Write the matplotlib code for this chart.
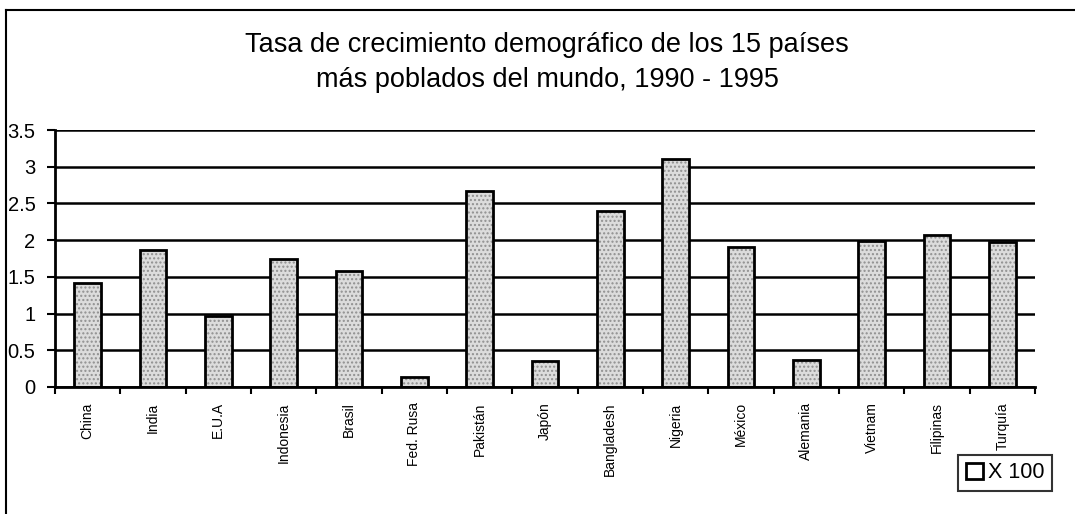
import matplotlib
matplotlib.use("Agg")
import matplotlib.pyplot as plt
from matplotlib.patches import Patch
from matplotlib.lines import Line2D
import numpy as np

plt.rcParams['font.family'] = ['Liberation Sans', 'DejaVu Sans']
plt.rcParams['hatch.linewidth'] = 1.0

countries = ["China", "India", "E.U.A", "Indonesia", "Brasil", "Fed. Rusa", "Pakistán",
             "Japón", "Bangladesh", "Nigeria", "México", "Alemania", "Vietnam",
             "Filipinas", "Turquía"]
growth = [1.42, 1.86, 0.97, 1.75, 1.58, 0.14, 2.67, 0.36, 2.40, 3.11, 1.91, 0.37,
          1.99, 2.07, 1.98]
yticks = [0, 0.5, 1, 1.5, 2, 2.5, 3, 3.5]
ytick_labels = ["0", "0.5", "1", "1.5", "2", "2.5", "3", "3.5"]
title_lines = ["Tasa de crecimiento demográfico de los 15 países",
               "más poblados del mundo, 1990 - 1995"]
legend_label = "X 100"

W, H = 1075, 514
fig = plt.figure(figsize=(W / 100, H / 100), dpi=100)
fig.patch.set_facecolor("white")

ax = fig.add_axes([55 / W, 1 - 387 / H, (1035 - 55) / W, (387 - 130) / H])
x = np.arange(len(countries))

ax.set_axisbelow(True)
ax.yaxis.grid(True, color="black", linewidth=1.8)
# textured fill
ax.bar(x, growth, width=0.41, facecolor="#dcdcdc", edgecolor="#909090",
       hatch="....", linewidth=0, zorder=2)
# outline
ax.bar(x, growth, width=0.41, fill=False, edgecolor="black", linewidth=2.0, zorder=3)

ax.set_xlim(-0.5, len(countries) - 0.5)
ax.set_ylim(0, 3.5)
ax.set_yticks(yticks)
ax.set_yticklabels(ytick_labels, fontsize=14.5)
ax.tick_params(axis="y", direction="out", length=6, width=1.5, pad=8)

ax.set_xticks(x)
ax.set_xticklabels(countries, rotation=90, fontsize=10, va="top", ha="center")
ax.set_xticks(np.arange(-0.5, len(countries), 1.0), minor=True)
ax.tick_params(axis="x", which="major", length=0, pad=11)
ax.tick_params(axis="x", which="minor", direction="out", length=5, width=1.5)

for s in ["top", "right"]:
    ax.spines[s].set_visible(False)
for s in ["left", "bottom"]:
    ax.spines[s].set_linewidth(2.0)
    ax.spines[s].set_color("black")

# title
fig.text(547 / W, 1 - 52 / H, title_lines[0], ha="center", va="baseline", fontsize=19.5)
fig.text(547 / W, 1 - 87 / H, title_lines[1], ha="center", va="baseline", fontsize=19.5)

# legend
handle = Patch(facecolor="white", edgecolor="black", linewidth=2)
leg = fig.legend([handle], [legend_label], loc="center",
                 bbox_to_anchor=(1005 / W, 1 - 473 / H), fontsize=15.5,
                 frameon=True, fancybox=False, handlelength=0.8, handleheight=0.8,
                 handletextpad=0.2, borderpad=0.35, borderaxespad=0)
leg.get_frame().set_edgecolor("black")
leg.get_frame().set_linewidth(1.5)

# outer frame (left and top edges visible)
fig.add_artist(Line2D([6 / W, 6 / W], [0, 1 - 10 / H], color="black", linewidth=1.5,
                      transform=fig.transFigure))
fig.add_artist(Line2D([6 / W, 1], [1 - 10 / H, 1 - 10 / H], color="black", linewidth=1.5,
                      transform=fig.transFigure))

fig.savefig("out.png", dpi=100)
